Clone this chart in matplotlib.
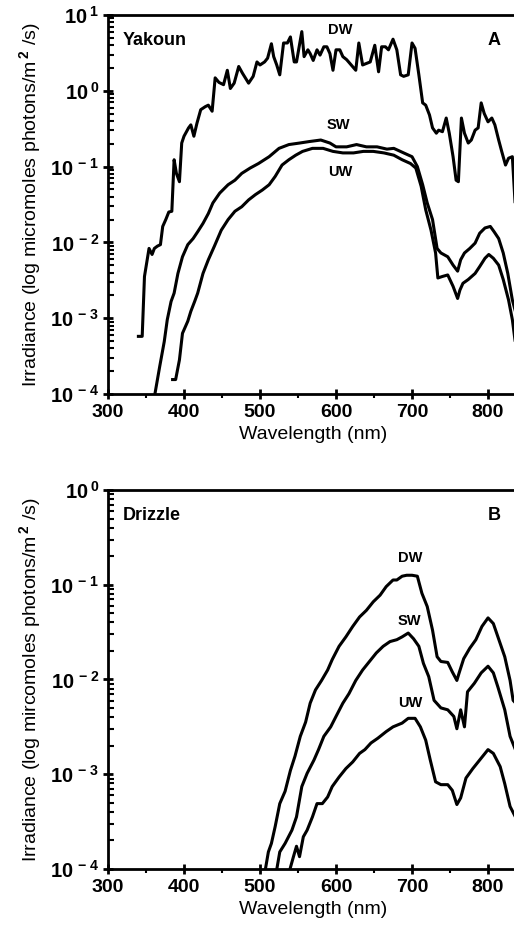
import numpy as np
import matplotlib.pyplot as plt
from matplotlib.ticker import LogLocator, MultipleLocator, FuncFormatter

plt.rcParams['font.family'] = ['Liberation Sans', 'DejaVu Sans']
plt.rcParams['font.weight'] = 'bold'
plt.rcParams['mathtext.fontset'] = 'custom'
plt.rcParams['mathtext.rm'] = 'Liberation Sans:bold'
plt.rcParams['mathtext.default'] = 'rm'

# panel A (Yakoun) - wavelength (nm), log10 irradiance
a_dw_nm = [340, 345, 348, 354, 358, 361, 365, 369, 372, 376, 380, 384, 387, 390, 394, 397,
           400, 406, 409, 413, 417, 422, 428, 432, 437, 441, 446, 452, 457, 461, 466, 472,
           477, 485, 491, 496, 500, 506, 510, 515, 518, 522, 526, 531, 536, 540, 545, 548,
           555, 558, 563, 566, 570, 575, 579, 584, 588, 592, 596, 600, 605, 609, 614, 620,
           626, 630, 635, 640, 645, 651, 656, 660, 665, 669, 675, 680, 685, 689, 695, 700,
           704, 709, 714, 718, 723, 727, 732, 735, 740, 745, 749, 754, 758, 761, 765, 769,
           774, 778, 783, 787, 791, 795, 800, 805, 809, 814, 818, 823, 827, 832, 836, 841]
a_dw_log = [-3.24, -3.24, -2.45, -2.08, -2.16, -2.08, -2.05, -2.03, -1.79, -1.70, -1.60, -1.59,
            -0.91, -1.09, -1.20, -0.69, -0.60, -0.49, -0.45, -0.60, -0.43, -0.25, -0.21, -0.19,
            -0.27, 0.17, 0.11, 0.08, 0.27, 0.03, 0.10, 0.32, 0.23, 0.10, 0.19, 0.38, 0.34, 0.38,
            0.43, 0.62, 0.45, 0.34, 0.21, 0.63, 0.63, 0.71, 0.38, 0.38, 0.78, 0.45, 0.54, 0.49,
            0.40, 0.54, 0.47, 0.58, 0.58, 0.49, 0.27, 0.54, 0.54, 0.45, 0.41, 0.34, 0.27, 0.63,
            0.34, 0.36, 0.38, 0.60, 0.25, 0.58, 0.58, 0.54, 0.68, 0.54, 0.21, 0.19, 0.21, 0.63,
            0.56, 0.21, -0.16, -0.19, -0.32, -0.49, -0.56, -0.52, -0.54, -0.36, -0.56, -0.87,
            -1.18, -1.20, -0.36, -0.56, -0.69, -0.65, -0.52, -0.49, -0.16, -0.30, -0.41, -0.36,
            -0.45, -0.65, -0.80, -0.98, -0.89, -0.87, -1.55, -1.35]

a_sw_nm = [360, 368, 374, 378, 383, 387, 392, 398, 405, 412, 418, 425, 432, 438, 447, 458,
           467, 476, 487, 498, 512, 525, 538, 552, 565, 580, 592, 600, 614, 627, 640, 654,
           667, 676, 689, 700, 707, 714, 720, 727, 733, 738, 747, 754, 760, 764, 769, 776,
           783, 789, 796, 803, 808, 814, 820, 826, 832, 836, 841]
a_sw_log = [-4.1, -3.64, -3.31, -3.02, -2.78, -2.67, -2.41, -2.19, -2.03, -1.95, -1.86, -1.75,
            -1.62, -1.48, -1.35, -1.24, -1.18, -1.09, -1.02, -0.96, -0.87, -0.76, -0.71, -0.69,
            -0.67, -0.65, -0.69, -0.74, -0.74, -0.71, -0.74, -0.74, -0.77, -0.76, -0.82, -0.87,
            -1.00, -1.24, -1.48, -1.70, -2.08, -2.14, -2.19, -2.30, -2.38, -2.23, -2.14, -2.08,
            -2.01, -1.88, -1.81, -1.79, -1.86, -1.95, -2.14, -2.41, -2.76, -2.91, -2.93]

a_uw_nm = [385, 389, 394, 398, 405, 409, 414, 418, 425, 432, 440, 449, 458, 467, 476, 485,
           494, 503, 512, 520, 529, 538, 547, 556, 569, 583, 596, 609, 623, 636, 649, 663,
           676, 687, 698, 705, 712, 718, 725, 731, 734, 740, 747, 754, 760, 763, 767, 774,
           783, 789, 796, 801, 807, 814, 820, 827, 832, 836, 841]
a_uw_log = [-3.81, -3.81, -3.55, -3.20, -3.04, -2.91, -2.78, -2.67, -2.41, -2.23, -2.05, -1.84,
            -1.70, -1.59, -1.53, -1.44, -1.37, -1.31, -1.24, -1.13, -0.98, -0.91, -0.85, -0.80,
            -0.76, -0.76, -0.80, -0.82, -0.82, -0.80, -0.80, -0.82, -0.85, -0.91, -0.96, -1.02,
            -1.26, -1.57, -1.84, -2.14, -2.47, -2.45, -2.43, -2.58, -2.74, -2.63, -2.54, -2.49,
            -2.41, -2.32, -2.21, -2.16, -2.21, -2.30, -2.49, -2.76, -3.02, -3.33, -3.37]

# panel B (Drizzle)
b_dw_nm = [505, 511, 515, 520, 526, 533, 540, 546, 553, 560, 566, 573, 581, 589, 595, 604,
           613, 622, 631, 640, 649, 658, 666, 675, 680, 687, 693, 700, 707, 713, 720, 727,
           733, 738, 747, 753, 759, 762, 768, 776, 784, 792, 800, 807, 813, 822, 829, 833, 841]
b_dw_log = [-4.1, -3.82, -3.73, -3.55, -3.31, -3.18, -2.96, -2.81, -2.60, -2.45, -2.25, -2.11,
            -2.01, -1.90, -1.79, -1.65, -1.55, -1.44, -1.34, -1.27, -1.18, -1.11, -1.02, -0.95,
            -0.95, -0.91, -0.90, -0.90, -0.91, -1.09, -1.23, -1.48, -1.76, -1.81, -1.82, -1.92,
            -2.01, -1.93, -1.78, -1.67, -1.58, -1.44, -1.35, -1.41, -1.55, -1.76, -2.01, -2.22,
            -2.29]

b_sw_nm = [520, 526, 533, 542, 548, 555, 562, 571, 577, 584, 593, 600, 609, 617, 626, 635,
           644, 653, 662, 671, 680, 687, 695, 702, 709, 715, 722, 729, 738, 747, 755, 759,
           764, 769, 773, 782, 791, 800, 807, 813, 822, 829, 836, 841]
b_sw_log = [-4.1, -3.82, -3.73, -3.59, -3.45, -3.13, -2.99, -2.85, -2.74, -2.60, -2.50, -2.39,
            -2.25, -2.15, -2.01, -1.90, -1.81, -1.72, -1.65, -1.60, -1.58, -1.55, -1.51, -1.57,
            -1.65, -1.83, -1.97, -2.22, -2.30, -2.32, -2.39, -2.52, -2.32, -2.50, -2.13, -2.04,
            -1.93, -1.86, -1.93, -2.08, -2.32, -2.60, -2.74, -2.78]

b_uw_nm = [536, 544, 548, 552, 557, 562, 569, 575, 582, 589, 595, 604, 613, 622, 631, 638,
           646, 655, 666, 675, 687, 695, 704, 711, 718, 724, 731, 738, 747, 753, 759, 764,
           771, 780, 789, 800, 807, 816, 822, 829, 836, 841]
b_uw_log = [-4.1, -3.87, -3.76, -3.87, -3.66, -3.59, -3.45, -3.31, -3.31, -3.24, -3.13, -3.03,
            -2.94, -2.87, -2.78, -2.74, -2.67, -2.62, -2.55, -2.50, -2.46, -2.41, -2.41, -2.50,
            -2.64, -2.85, -3.08, -3.11, -3.11, -3.17, -3.32, -3.25, -3.04, -2.94, -2.85, -2.74,
            -2.78, -2.92, -3.10, -3.34, -3.45, -3.47]

fig = plt.figure(figsize=(5.14, 9.34), dpi=100)
axA = fig.add_axes([0.2101, 0.5782, 0.80, 0.4058])
axB = fig.add_axes([0.2101, 0.0696, 0.80, 0.4058])


def pow_label(v, pos):
    return '$10^{\\,%d}$' % int(round(np.log10(v)))


def style(ax, ylo, yhi, ylabel):
    ax.set_yscale('log')
    ax.set_xlim(300, 841)
    ax.set_ylim(ylo, yhi)
    ax.spines['right'].set_visible(False)
    for s in ['left', 'bottom', 'top']:
        ax.spines[s].set_linewidth(2)
    ax.xaxis.set_major_locator(MultipleLocator(100))
    ax.xaxis.set_minor_locator(MultipleLocator(50))
    ax.yaxis.set_major_locator(LogLocator(base=10, numticks=10))
    ax.yaxis.set_minor_locator(LogLocator(base=10, subs=np.arange(2, 10), numticks=20))
    ax.yaxis.set_major_formatter(FuncFormatter(pow_label))
    ax.tick_params(axis='x', which='major', direction='inout', length=7, width=2,
                   labelsize=14, pad=4)
    ax.tick_params(axis='x', which='minor', direction='out', length=3, width=1.5)
    ax.tick_params(axis='y', which='major', direction='inout', length=7, width=2,
                   labelsize=14.5, pad=3)
    ax.tick_params(axis='y', which='minor', direction='in', length=4, width=1.5)
    ax.tick_params(top=False, right=False, which='both')
    ax.set_xlabel('Wavelength (nm)', fontsize=14, labelpad=3)
    ax.set_ylabel(ylabel, fontsize=14, labelpad=5)


lw = 2.2
axA.plot(a_dw_nm, 10 ** np.array(a_dw_log), color='black', lw=lw)
axA.plot(a_sw_nm, 10 ** np.array(a_sw_log), color='black', lw=lw)
axA.plot(a_uw_nm, 10 ** np.array(a_uw_log), color='black', lw=lw)
style(axA, 1e-4, 10, 'Irradiance (log micromoles photons/m$^{\\,2}$ /s)')
axA.text(605, 10 ** 0.80, 'DW', fontsize=10.5, ha='center', va='center')
axA.text(603, 10 ** -0.45, 'SW', fontsize=10.5, ha='center', va='center')
axA.text(605, 10 ** -1.07, 'UW', fontsize=10.5, ha='center', va='center')
axA.text(0.035, 0.955, 'Yakoun', transform=axA.transAxes, fontsize=13, va='top')
axA.text(0.955, 0.955, 'A', transform=axA.transAxes, fontsize=13, va='top', ha='right')

axB.plot(b_dw_nm, 10 ** np.array(b_dw_log), color='black', lw=lw)
axB.plot(b_sw_nm, 10 ** np.array(b_sw_log), color='black', lw=lw)
axB.plot(b_uw_nm, 10 ** np.array(b_uw_log), color='black', lw=lw)
style(axB, 1e-4, 1, 'Irradiance (log mircomoles photons/m$^{\\,2}$ /s)')
axB.text(698, 10 ** -0.72, 'DW', fontsize=10.5, ha='center', va='center')
axB.text(696, 10 ** -1.38, 'SW', fontsize=10.5, ha='center', va='center')
axB.text(698, 10 ** -2.25, 'UW', fontsize=10.5, ha='center', va='center')
axB.text(0.035, 0.955, 'Drizzle', transform=axB.transAxes, fontsize=13, va='top')
axB.text(0.955, 0.955, 'B', transform=axB.transAxes, fontsize=13, va='top', ha='right')

fig.savefig('out.png', dpi=100)
